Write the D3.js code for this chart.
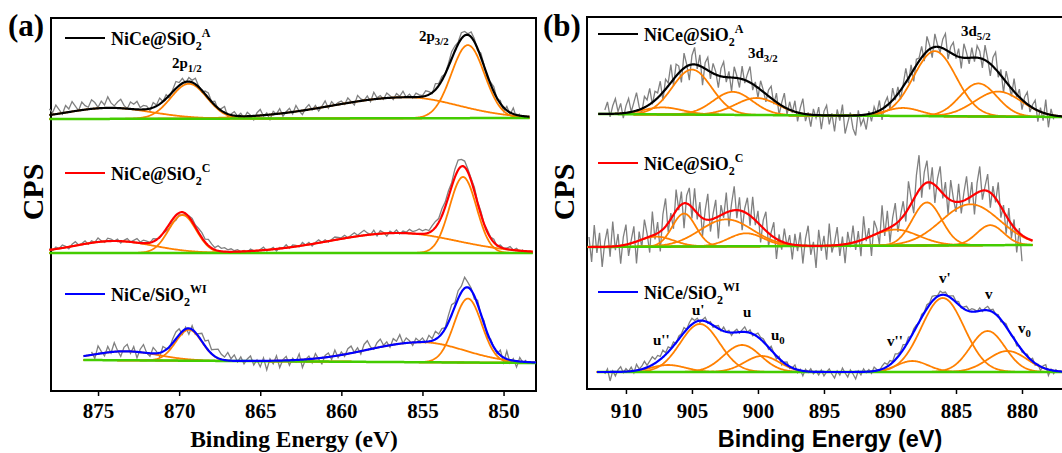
<!DOCTYPE html>
<html>
<head>
<meta charset="utf-8">
<script src="https://cdn.jsdelivr.net/npm/d3@7/dist/d3.min.js"></script>
<style>
  body { margin: 0; background: #fff; }
  svg text { font-family: "Liberation Serif", "Times New Roman", serif; font-weight: bold; fill: #000; }
</style>
</head>
<body>
<svg id="chart"></svg>
<script>
// ---------------- data ----------------
const ticksNi = [875, 870, 865, 860, 855, 850];
const ticksCe = [910, 905, 900, 895, 890, 885, 880];
const sampleNames = ['A', 'C', 'WI'];
const samplePrefix = ['NiCe@SiO', 'NiCe@SiO', 'NiCe/SiO'];
const sampleColors = ['#000000', '#ff0000', '#0000ff'];

// fitted components: [centre (eV), height, fwhm on high-BE side, fwhm on low-BE side]
const niFitA = [[874.3, 11, 6.1, 6.1], [869.4, 35, 2.6, 2.6], [856.0, 21, 10.8, 7.5], [852.2, 73, 2.4, 2.4]];
const niFitC = [[874.0, 12, 5.7, 5.7], [869.8, 38, 2.0, 2.0], [856.5, 20, 9.9, 8.5], [852.5, 76, 1.95, 1.95]];
const niFitWI = [[873.3, 9, 4.7, 4.7], [869.4, 31, 1.9, 1.9], [855.0, 20, 8.0, 6.1], [852.2, 64, 2.0, 2.0]];

// Ce 3d: u'', u', u, u0, v'', v', v, v0
const ceFitA = [[907.2, 7, 3.5, 3.5], [905.0, 45, 3.5, 3.5], [901.9, 23, 3.5, 3.5], [900.1, 17, 3.8, 3.8],
                [889.0, 8, 3.1, 3.1], [886.6, 65, 3.8, 3.8], [883.3, 33, 3.3, 3.3], [881.8, 25, 4.2, 4.2]];
const ceFitC = [[907.7, 10, 3.1, 3.1], [905.6, 33, 2.1, 2.1], [902.4, 27, 4.7, 4.7], [900.9, 13, 3.1, 3.1],
                [889.6, 16, 4.2, 4.2], [887.2, 43, 2.6, 2.6], [883.9, 41, 5.2, 5.2], [882.4, 20, 2.4, 2.4]];
const ceFitWI = [[906.8, 7, 3.1, 3.1], [904.4, 48, 3.5, 3.5], [901.2, 27, 3.3, 3.3], [899.7, 16, 3.1, 3.1],
                 [888.3, 11, 2.8, 2.8], [886.0, 74, 3.8, 3.8], [882.6, 41, 3.1, 3.1], [881.1, 21, 3.5, 3.5]];

// linear background: [start eV, end eV, start value, end value]
const niBg = [[878.0, 848.4, 0, 1], [878.0, 848.2, 0, 0], [875.9, 848.0, 1, -2]];
const ceBg = [[912.1, 876.8, 2, -1], [912.9, 879.2, -1, 1], [912.2, 876.8, 0, 0]];

// raw spectra: first energy, then 0.2 eV steps; values = counts left after the fit (residuals)
const rawStep = 0.2;
const niRawStart = [878.0, 878.0, 875.4];
const ceRawStart = [911.6, 912.8, 911.6];

const niResA = [6,2,9,4,-1,7,3,10,5,0,8,4,2,9,6,1,7,3,11,5,2,6,9,3,0,7,5,8,2,4,
  3,-2,5,1,6,0,4,-3,2,7,3,5,-1,4,2,6,1,-2,3,5,0,4,-1,2,6,-3,1,4,0,3,
  -2,4,1,-4,3,6,-1,2,-5,3,0,5,-3,1,4,-2,6,0,-4,2,5,-1,3,-3,1,6,-2,4,0,2,
  3,-1,5,1,-3,6,2,0,4,-2,7,1,3,-1,5,2,-2,4,1,6,0,3,-1,4,2,
  1,5,3,-1,6,2,4,0,3,7,5,2,6,4,1,5,3,-2,4,1,-3,2,5,-1,3,-4,4,-2,6,-3,2];
const niResC = [1,-1,2,0,3,1,-2,2,4,0,1,3,-1,2,0,4,1,-1,3,2,0,2,-2,1,3,0,2,4,1,3,
  2,0,3,1,-1,0,-2,-4,-3,-5,-2,-3,-1,1,3,2,4,5,3,6,4,2,5,3,4,2,3,1,2,0,
  1,-1,2,0,-2,1,3,-1,0,2,-2,1,0,3,-1,2,1,-1,3,0,2,-2,1,3,0,2,-1,1,3,2,
  1,3,0,2,4,1,3,5,2,0,4,-2,3,1,-3,2,0,3,-1,2,1,4,2,3,5,
  3,4,2,5,6,4,7,5,6,4,8,10,7,6,3,2,4,1,3,0,2,1,3,-1,2,0,1,3,0,2,-1,1];
const niResWI = [3,-4,8,2,-3,6,-1,9,1,-5,4,7,-2,5,-6,3,8,0,-3,6,2,-4,5,1,-2,4,7,
  6,-3,2,-6,4,-2,3,8,5,10,4,7,9,5,3,8,2,6,-1,4,-3,2,5,-4,1,
  -6,3,-9,2,-3,5,-7,1,4,-5,2,-2,6,-8,0,3,-4,5,-1,-6,2,4,-3,6,-2,
  3,-2,5,7,0,4,-3,6,9,2,-1,5,8,1,4,-2,6,3,9,0,5,2,-3,4,1,
  4,-1,6,2,8,3,5,1,7,10,4,8,6,11,5,2,-3,4,-1,3,-4,2,0,-2,5,-5,8,-3,2,-6,4,-1,2];

const ceResA = [4,12,-3,8,15,2,10,-5,7,14,0,9,18,3,-4,11,6,16,-2,9,
  5,14,-8,10,3,18,-6,12,7,-12,15,2,-15,9,17,-4,11,-18,6,13,
  -7,10,3,-12,8,15,-5,6,-14,11,2,-9,13,-3,7,16,-6,4,-10,9,
  2,-8,6,12,-4,9,-11,3,14,-6,8,-2,11,-9,5,15,-7,2,-12,6,
  -3,8,-14,4,10,-9,2,-16,6,-5,11,-18,-7,3,-13,-20,5,-10,-4,-15,
  3,-8,6,-2,10,-11,4,8,-6,12,-3,7,-9,2,14,-5,9,-12,6,3,
  11,-7,15,4,-10,13,2,-5,9,16,-8,6,12,-3,8,-11,14,5,-6,10,
  -4,12,7,-9,15,3,-12,9,17,-5,6,-14,11,2,-8,13,-3,8,-10,5,
  12,-6,3,9,-11,4,-8,14,-13,6,-4];
const ceResC = [10,-15,22,-6,14,-20,5,18,-10,25,-4,12,-18,8,20,-12,3,16,-22,9,
  -8,19,4,-16,24,-5,11,-20,15,28,-9,6,-14,21,-3,13,-25,8,17,-11,
  22,-6,14,-18,9,26,-12,5,18,-22,10,-4,20,-15,7,24,-8,13,-19,4,
  16,-10,21,-5,12,-17,8,19,-13,3,15,-20,6,-8,14,-3,9,-15,11,-6,
  13,-18,7,20,-9,4,-22,16,-5,10,-14,22,-7,3,18,-11,8,-19,12,-4,
  17,-8,10,-16,23,-3,9,-20,14,5,-12,26,-6,18,-15,8,21,-10,4,15,
  -9,27,6,-14,19,35,-11,12,22,-7,16,-18,9,24,-5,14,-16,20,3,-10,
  18,-12,8,23,-6,14,-20,10,25,-9,4,17,-15,9,-4,20,-11,6,-18,12,
  -14,8,-22,5,-26];
const ceResWI = [-2,3,-9,1,-4,2,5,-1,3,0,4,-2,6,1,3,7,2,5,8,4,
  6,3,7,2,5,1,4,-1,3,2,5,0,4,6,2,3,-2,1,4,-1,
  2,-2,1,3,-1,4,0,2,-3,1,3,-1,2,5,0,3,-2,1,4,2,
  3,1,-2,4,0,-3,2,-4,1,3,-2,0,4,-3,1,-5,2,-1,3,-2,
  1,-3,2,-4,0,3,-2,-6,1,-3,4,-1,-5,2,-2,-7,1,-3,3,-1,
  2,-2,4,1,-1,3,5,2,4,1,6,3,2,5,1,4,0,3,2,-1,
  3,1,4,2,5,3,1,4,2,3,0,2,4,1,3,-1,2,4,1,3,
  2,0,3,-1,2,4,1,3,0,2,-2,1,3,0,-1,2,-3,1,-2,0,
  2,-1,3,-2,1,-4,2,4,-6,1,-3,2];

// ---------------- drawing ----------------
const W = 1062, H = 453;
const svg = d3.select('#chart').attr('width', W).attr('height', H)
  .attr('viewBox', '0 0 ' + W + ' ' + H);
svg.append('rect').attr('width', W).attr('height', H).style('fill', 'white');

function peak(E, p) {
  const w = E >= p[0] ? p[2] : p[3];
  const t = (E - p[0]) / w;
  return p[1] * Math.exp(-4 * Math.LN2 * t * t);
}

function bgAt(E, bg) {
  return bg[2] + (bg[3] - bg[2]) * (E - bg[0]) / (bg[1] - bg[0]);
}

function drawPanel(cfg) {
  const g = svg.append('g');
  const x = cfg.x, y = cfg.y;

  // frame
  g.append('rect')
    .attr('x', cfg.box[0]).attr('y', cfg.box[1])
    .attr('width', cfg.box[2] - cfg.box[0]).attr('height', cfg.box[3] - cfg.box[1])
    .style('fill', 'none').style('stroke', '#000').style('stroke-width', 2);

  const axis = g.append('g')
    .attr('transform', 'translate(0,' + cfg.box[3] + ')')
    .call(d3.axisBottom(x).tickValues(cfg.ticks).tickSize(5).tickPadding(cfg.tickPad).tickFormat(d3.format('d')));
  axis.select('.domain').remove();
  axis.selectAll('.tick line').style('stroke', '#000').style('stroke-width', 1.5);
  axis.selectAll('.tick text')
    .style('font-family', '"Liberation Serif", serif').style('font-weight', 'bold').style('font-size', '21px');

  const line = d3.line().x(d => x(d[0])).y(d => y(d[1]));

  cfg.fits.forEach((fit, i) => {
    const off = cfg.offsets[i], bg = cfg.bgs[i];
    const model = E => d3.sum(fit, p => peak(E, p));
    const grid = d3.range(bg[0], bg[1] - 0.001, -0.05);

    const raw = cfg.residuals[i].map((r, k) => {
      const E = cfg.rawStarts[i] - k * rawStep;
      return [E, off + bgAt(E, bg) + model(E) + r];
    });
    g.append('path').datum(raw).attr('d', line)
      .style('fill', 'none').style('stroke', '#808080').style('stroke-width', 1.3);

    fit.forEach(p => {
      g.append('path').datum(grid.map(E => [E, off + bgAt(E, bg) + peak(E, p)])).attr('d', line)
        .style('fill', 'none').style('stroke', '#ff8000').style('stroke-width', 1.8);
    });

    g.append('path').datum(grid.map(E => [E, off + bgAt(E, bg)])).attr('d', line)
      .style('fill', 'none').style('stroke', '#44cc00').style('stroke-width', 2.5);

    g.append('path').datum(grid.map(E => [E, off + bgAt(E, bg) + model(E)])).attr('d', line)
      .style('fill', 'none').style('stroke', sampleColors[i]).style('stroke-width', 2.2);

    // legend
    const ly = cfg.legendY[i];
    g.append('line')
      .attr('x1', cfg.legendX).attr('x2', cfg.legendX + 40).attr('y1', ly).attr('y2', ly)
      .style('stroke', sampleColors[i]).style('stroke-width', 2);
    const t = g.append('text').attr('x', cfg.legendX + 46).attr('y', ly + 7).style('font-size', '18px');
    t.append('tspan').text(samplePrefix[i]);
    t.append('tspan').attr('dy', 5).style('font-size', '12px').text('2');
    t.append('tspan').attr('dy', -13).style('font-size', '12px').text(sampleNames[i]);
  });

  // y title
  g.append('text')
    .attr('transform', 'translate(' + cfg.cpsX + ',192) rotate(-90)')
    .attr('text-anchor', 'middle').style('font-size', '30px').text('CPS');

  // x title
  g.append('text')
    .attr('x', cfg.titleX).attr('y', 447).attr('text-anchor', 'middle')
    .style('font-family', cfg.titleFont).style('font-size', cfg.titleSize + 'px')
    .text('Binding Energy (eV)');

  // panel letter
  g.append('text').attr('x', cfg.letterX).attr('y', 36).style('font-size', '31px').text(cfg.letter);

  return g;
}

function subLabel(g, xPos, yPos, main, sub, size) {
  const t = g.append('text').attr('x', xPos).attr('y', yPos).style('font-size', size + 'px');
  t.append('tspan').text(main);
  if (sub) t.append('tspan').attr('dy', 4).style('font-size', (size * 0.72) + 'px').text(sub);
  return t;
}

const xNi = d3.scaleLinear().domain([877.9, 848]).range([51, 536]);
const yNi = d3.scaleLinear().domain([0, 373]).range([391, 18]);
const gA = drawPanel({
  x: xNi, y: yNi, box: [51, 18, 536, 391], ticks: ticksNi, tickPad: 7,
  fits: [niFitA, niFitC, niFitWI], bgs: niBg, offsets: [272, 138, 30],
  rawStarts: niRawStart, residuals: [niResA, niResC, niResWI],
  legendX: 65, legendY: [38, 173, 294], cpsX: 43, titleX: 294, titleSize: 23.5,
  titleFont: '"Liberation Serif", serif', letter: '(a)', letterX: 8
});
subLabel(gA, 172, 68, '2p', '1/2', 15);
subLabel(gA, 419, 41, '2p', '3/2', 15);

const xCe = d3.scaleLinear().domain([912.95, 876.97]).range([587, 1062]);
const yCe = d3.scaleLinear().domain([0, 372]).range([389, 17]);
const gB = drawPanel({
  x: xCe, y: yCe, box: [587, 17, 1066, 389], ticks: ticksCe, tickPad: 9,
  fits: [ceFitA, ceFitC, ceFitWI], bgs: ceBg, offsets: [273, 143, 17],
  rawStarts: ceRawStart, residuals: [ceResA, ceResC, ceResWI],
  legendX: 598, legendY: [34, 163, 292], cpsX: 574, titleX: 830, titleSize: 23.5,
  titleFont: '"Liberation Sans", Arial, sans-serif', letter: '(b)', letterX: 543
});
subLabel(gB, 748, 58, '3d', '3/2', 15);
subLabel(gB, 961, 36, '3d', '5/2', 15);
subLabel(gB, 653, 345, "u''", null, 15);
subLabel(gB, 692, 315, "u'", null, 15);
subLabel(gB, 743, 317, 'u', null, 15);
subLabel(gB, 771, 340, 'u', '0', 15);
subLabel(gB, 887, 346, "v''", null, 15);
subLabel(gB, 939, 283, "v'", null, 15);
subLabel(gB, 985, 299, 'v', null, 15);
subLabel(gB, 1018, 333, 'v', '0', 15);
</script>
</body>
</html>
